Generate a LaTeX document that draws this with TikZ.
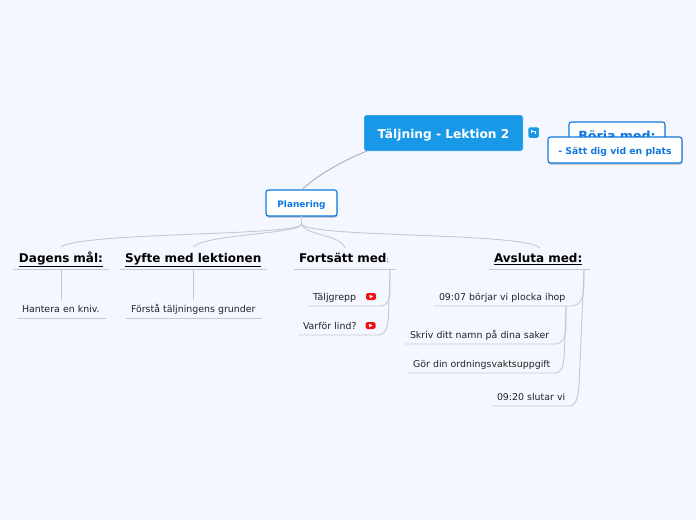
\documentclass[tikz,border=0pt]{standalone}
\usepackage{fontspec}
\setmainfont{DejaVu Sans}
\usetikzlibrary{shadows,calc}
\definecolor{bgc}{HTML}{F4F7FF}
\definecolor{rootc}{HTML}{1A98E8}
\definecolor{bluec}{HTML}{0F78E0}
\definecolor{linec}{HTML}{C6C8D2}
\definecolor{rootline}{HTML}{ABABB5}
\definecolor{textc}{HTML}{222222}
\definecolor{ytc}{HTML}{F01010}
\tikzset{
  every node/.style={outer sep=0pt},
  root/.style={fill=rootc,rounded corners=2pt,text=white,font=\bfseries\fontsize{12.2}{15}\selectfont,minimum width=159pt,minimum height=36pt,draw=white,line width=.4pt,text height=10pt,text depth=0pt},
  box/.style={fill=white,draw=bluec,line width=1.1pt,rounded corners=2.5pt,text=bluec,font=\bfseries\fontsize{#1}{12}\selectfont,
    drop shadow={shadow xshift=0.3pt,shadow yshift=-1.6pt,opacity=.4,fill=black!70}},
  topic/.style={anchor=west,inner xsep=5pt,inner ysep=0pt,align=left,text width=#1pt-10pt,text=black,font=\bfseries\fontsize{12}{14}\selectfont,text height=10.5pt,text depth=2.5pt,minimum height=22pt},
  leaf/.style={anchor=west,inner xsep=5pt,inner ysep=0pt,align=left,text width=#1pt-10pt,text=textc,font=\fontsize{9.4}{11}\selectfont,text height=8pt,text depth=2pt,minimum height=18pt},
  rule/.style={draw=linec,line width=1pt},
  conn/.style={draw=linec,line width=.9pt},
  yt/.style={fill=ytc,rounded corners=1.6pt,minimum width=10pt,minimum height=7pt,inner sep=0pt},
  tri/.style={fill=white},
}
\begin{document}
\begin{tikzpicture}[x=1pt,y=-1pt]
\useasboundingbox[fill=bgc] (0,0) rectangle (696,520);
% nodes
\node[root] (root) at (443.5,133) {Täljning - Lektion 2};
\node[fill=rootc,rounded corners=1.5pt,minimum width=10.5pt,minimum height=10.5pt,inner sep=0pt] (link) at (533.5,132.5) {};
\draw[white,line width=.8pt] ($(link)+(-2.5,-1)$) -- ($(link)+(2,-1)$) -- ($(link)+(2,1.5)$);
\fill[white] ($(link)+(-2.5,-3)$) -- ($(link)+(-.5,-1)$) -- ($(link)+(-2.5,.8)$) -- cycle;
\node[box=12.6,minimum width=96pt,minimum height=30pt,text height=6.5pt,text depth=0pt] (begin) at (617,137) {Börja med:};
\node[box=9.3,minimum width=134pt,minimum height=26pt,text height=8.6pt,text depth=0pt] (sit) at (615,150) {- Sätt dig vid en plats};
\node[box=8.9,minimum width=71pt,minimum height=26pt,text height=8.6pt,text depth=0pt] (plan) at (301.5,203) {Planering};

\node[topic=96] (dag) at (13,258.5) {\hspace{1pt}\underline{Dagens mål:}};
\node[topic=147] (syf) at (120,258.5) {\underline{Syfte med lektionen}};
\node[topic=102] (for) at (294,258.5) {Fortsätt med{\normalfont\fontsize{7}{8}\selectfont:}};
\node[topic=101] (avs) at (489,258.5) {\underline{Avsluta med:}};
\node[leaf=89] (han) at (17,309) {\mbox{Hantera en kniv.}};
\node[leaf=136] (fst) at (126,309) {\mbox{Förstå täljningens grunder}};
\node[leaf=77] (tal) at (308,297) {\mbox{Täljgrepp}};
\node[leaf=82] (var) at (298,326) {\mbox{Varför lind?}};
\node[leaf=141] (a) at (434,297) {\mbox{09:07 börjar vi plocka ihop}};
\node[leaf=150] (b) at (405,335) {\mbox{Skriv ditt namn på dina saker}};
\node[leaf=147] (c) at (408,364) {\mbox{Gör din ordningsvaktsuppgift}};
\node[leaf=90] (d) at (492,397) {\mbox{09:20 slutar vi}};

\draw[rule] (dag.south west) -- (dag.south east);
\draw[rule] (syf.south west) -- (syf.south east);
\draw[rule] (for.south west) -- (for.south east);
\draw[rule] (avs.south west) -- (avs.south east);
\draw[rule] (han.south west) -- (han.south east);
\draw[rule] (fst.south west) -- (fst.south east);

% icons
\node[yt] (y1) at (371,296.5) {};
\fill[tri] ($(y1)+(-1.4,-1.8)$) -- ($(y1)+(2,0)$) -- ($(y1)+(-1.4,1.8)$) -- cycle;
\node[yt] (y2) at (370.5,325.5) {};
\fill[tri] ($(y2)+(-1.4,-1.8)$) -- ($(y2)+(2,0)$) -- ($(y2)+(-1.4,1.8)$) -- cycle;

% connectors
\draw[rootline,line width=.9pt] (root.south west) ++(3,0) .. controls (340,162) and (318,175) .. (plan.north);
\draw[conn] (plan.south) -- ++(0,8) .. controls (302,236) and (80,232) .. (61,247) ;
\draw[conn] (plan.south) -- ++(0,8) .. controls (302,234) and (205,234) .. (193.5,247);
\draw[conn] (plan.south) -- ++(0,8) .. controls (306,236) and (340,234) .. (345,248);
\draw[conn] (plan.south) -- ++(0,8) .. controls (308,238) and (525,232) .. (540,248);

\draw[conn] (61,270) -- (61,300);
\draw[conn] (193.5,270) -- (193.5,300);

\draw[conn] (tal.south west) -- (380,306) .. controls (387,306) and (390,300) .. (390,290) -- (390,270);
\draw[conn] (var.south west) -- (378,335) .. controls (385,335) and (388,328) .. (388.5,315) -- (390,270);
\draw[conn] (a.south west) -- (572,306) .. controls (579,306) and (584,298) .. (584,285) -- (584,270);
\draw[conn] (d.south west) -- (569,406) .. controls (576,406) and (578,398) .. (579,385) -- (584,270);
\draw[conn] (b.south west) -- (554,344) .. controls (562,344) and (566,338) .. (566,325) -- (566,306);
\draw[conn] (c.south west) -- (555,373) .. controls (562,373) and (564,365) .. (564.5,350) -- (566,306);
\end{tikzpicture}
\end{document}
